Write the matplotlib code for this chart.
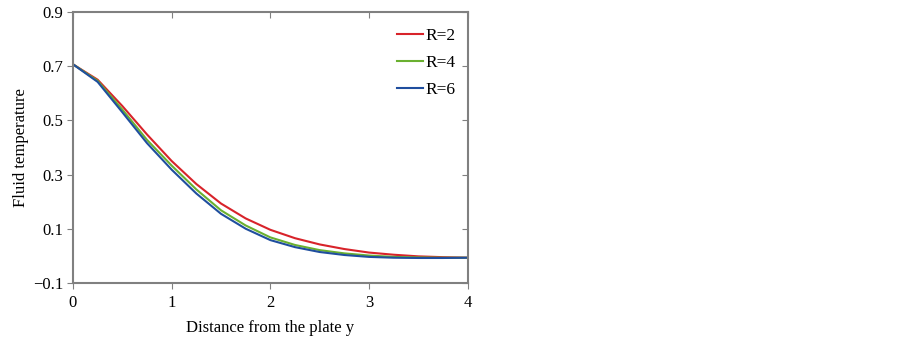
import matplotlib.pyplot as plt

# distance from the plate
y_dist = [0, 0.25, 0.5, 0.75, 1.0, 1.25, 1.5, 1.75, 2.0, 2.25, 2.5, 2.75, 3.0, 3.25, 3.5, 3.75, 4.0]

# fluid temperature
temp_r2 = [0.707, 0.650, 0.553, 0.448, 0.350, 0.265, 0.193, 0.138, 0.096, 0.065, 0.042, 0.025, 0.012, 0.004, -0.002, -0.005, -0.007]
temp_r4 = [0.707, 0.646, 0.540, 0.428, 0.333, 0.245, 0.168, 0.112, 0.068, 0.040, 0.021, 0.009, 0.001, -0.004, -0.006, -0.007, -0.007]
temp_r6 = [0.707, 0.642, 0.530, 0.416, 0.318, 0.230, 0.155, 0.100, 0.058, 0.032, 0.014, 0.003, -0.004, -0.007, -0.008, -0.008, -0.007]

labels = ['R=2', 'R=4', 'R=6']
colors = ['#d8232a', '#6ab030', '#1f4e9e']

xticks = [0, 1, 2, 3, 4]
yticks = [-0.1, 0.1, 0.3, 0.5, 0.7, 0.9]

plt.rcParams['font.family'] = ['Liberation Serif', 'DejaVu Serif']
plt.rcParams['font.size'] = 12

fig = plt.figure(figsize=(9.03, 3.38), dpi=100)
ax = fig.add_axes([0.0808, 0.163, 0.4372, 0.8015])

for temps, lab, col in zip([temp_r2, temp_r4, temp_r6], labels, colors):
    ax.plot(y_dist, temps, color=col, lw=1.5, label=lab)

ax.set_xlim(0, 4)
ax.set_ylim(-0.1, 0.9)
ax.set_xticks(xticks)
ax.set_yticks(yticks)
ax.set_yticklabels(['\u22120.1', '0.1', '0.3', '0.5', '0.7', '0.9'])

spine_col = '#808080'
for s in ax.spines.values():
    s.set_color(spine_col)
    s.set_linewidth(1.5)
ax.tick_params(direction='out', length=4, color=spine_col, labelsize=12)
ax.tick_params(axis='x', pad=5)
ax.tick_params(axis='y', pad=3)

# inward ticks on the top and right sides
top = ax.secondary_xaxis('top')
top.set_xticks(xticks)
top.tick_params(direction='in', length=4, color=spine_col, labeltop=False)
top.spines['top'].set_visible(False)
right = ax.secondary_yaxis('right')
right.set_yticks(yticks)
right.tick_params(direction='in', length=4, color=spine_col, labelright=False)
right.spines['right'].set_visible(False)

ax.set_xlabel('Distance from the plate y', fontsize=12, labelpad=6)
ax.set_ylabel('Fluid temperature', fontsize=12, labelpad=3)

ax.legend(loc='upper right', bbox_to_anchor=(1.008, 1.0), frameon=False,
          handlelength=1.55, handletextpad=0.1, labelspacing=0.64, fontsize=12.5)

fig.savefig('out.png', dpi=100)
